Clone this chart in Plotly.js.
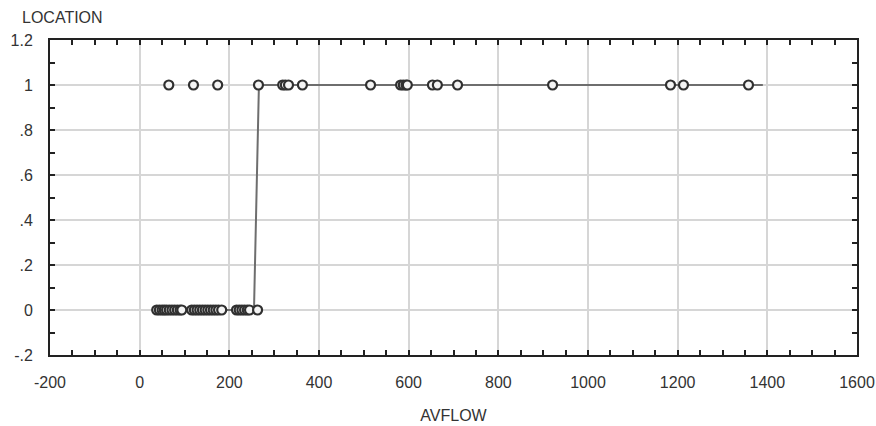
<!DOCTYPE html>
<html>
<head>
<meta charset="utf-8">
<script src="https://cdn.plot.ly/plotly-3.0.1.min.js"></script>
<style>html,body{margin:0;padding:0;background:#fff;}#chart{width:876px;height:426px;}</style>
</head>
<body>
<div id="chart"></div>
<script>
// Observed AVFLOW values with LOCATION = 0
const avflowLoc0 = [38, 44, 50, 55, 60, 66, 72, 78, 84, 90, 94,
  116, 122, 128, 134, 140, 146, 152, 158, 164, 170, 176, 183,
  216, 222, 228, 234, 240, 245, 263];
// Observed AVFLOW values with LOCATION = 1
const avflowLoc1 = [65, 120, 174, 265, 319, 325, 332, 363, 515, 582, 588, 594, 597,
  653, 664, 709, 921, 1184, 1213, 1358];
// Fitted step curve
const fitX = [31, 255, 266, 1390];
const fitY = [0, 0, 1, 1];
// Axis ticks
const xTicks = [-200, 0, 200, 400, 600, 800, 1000, 1200, 1400, 1600];
const xTickText = ['-200', '0', '200', '400', '600', '800', '1000', '1200', '1400', '1600'];
const yTickVals = [-0.2, 0, 0.2, 0.4, 0.6, 0.8, 1, 1.2];
const yTickText = ['-.2', '0', '.2', '.4', '.6', '.8', '1', '1.2'];

const markerStyle = {symbol: 'circle', size: 9, color: '#f4f4f4', line: {color: '#303030', width: 2.2}};

const traces = [
  {x: fitX, y: fitY, mode: 'lines', line: {color: '#6e6e6e', width: 2}, hoverinfo: 'skip'},
  {x: avflowLoc0, y: avflowLoc0.map(() => 0), mode: 'markers', marker: markerStyle},
  {x: avflowLoc1, y: avflowLoc1.map(() => 1), mode: 'markers', marker: markerStyle}
];

const fnt = {family: 'Liberation Sans, Arial, sans-serif', size: 16, color: '#333'};
const axisCommon = {
  showline: true, linecolor: '#222', linewidth: 2, mirror: 'ticks',
  ticks: 'inside', ticklen: 5, tickwidth: 2, tickcolor: '#222',
  showgrid: true, gridcolor: '#d6d6d6', gridwidth: 2,
  zeroline: false, tickfont: fnt, fixedrange: true
};

const layout = {
  width: 876, height: 426,
  margin: {l: 50, r: 19, t: 40, b: 71},
  paper_bgcolor: '#fff', plot_bgcolor: '#fff',
  showlegend: false,
  font: fnt,
  xaxis: Object.assign({}, axisCommon, {
    range: [-200, 1600], tickvals: xTicks, ticktext: xTickText, ticklabelstandoff: 12,
    minor: {dtick: 50, ticks: 'inside', ticklen: 5, tickwidth: 2, tickcolor: '#222', showgrid: false},
    title: {text: 'AVFLOW', font: fnt, standoff: 20}
  }),
  yaxis: Object.assign({}, axisCommon, {
    range: [-0.2, 1.2], tickvals: yTickVals, ticktext: yTickText, ticklabelstandoff: 12,
    minor: {dtick: 0.1, ticks: 'inside', ticklen: 5, tickwidth: 2, tickcolor: '#222', showgrid: false}
  }),
  annotations: [{
    text: 'LOCATION', xref: 'paper', yref: 'paper', x: -0.037, y: 1.0, yshift: 23,
    xanchor: 'left', yanchor: 'middle', showarrow: false, font: fnt
  }]
};

Plotly.newPlot('chart', traces, layout, {displayModeBar: false, staticPlot: true});
</script>
</body>
</html>
